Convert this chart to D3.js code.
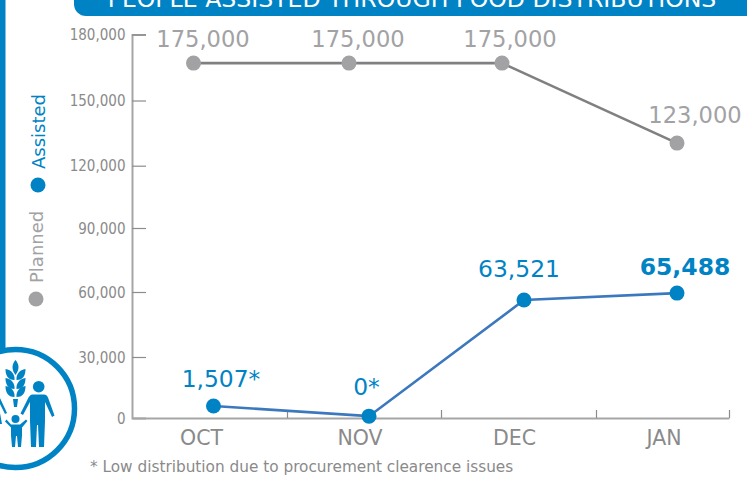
<!DOCTYPE html>
<html>
<head>
<meta charset="utf-8">
<script src="https://cdn.jsdelivr.net/npm/d3@7"></script>
<style>
body { margin: 0; background: #fff; }
svg { display: block; }
text { font-family: "DejaVu Sans", sans-serif; }
</style>
</head>
<body>
<div id="chart"></div>
<script>
var months = ["OCT", "NOV", "DEC", "JAN"]
var yTicks = [0, 30000, 60000, 90000, 120000, 150000, 180000]
// plotted heights do not agree with the printed labels in the source
var plannedValues = [167000, 167000, 167000, 130400]
var assistedValues = [5900, 900, 56300, 59500]
var plannedLabels = ["175,000", "175,000", "175,000", "123,000"]
var assistedLabels = ["1,507*", "0*", "63,521", "65,488"]

var blue = "#0083c5", grey = "#a2a2a5", textGrey = "#8a8a8a"

var svg = d3.select("#chart").append("svg").attr("width", 747).attr("height", 481)

var x = d3.scaleLinear().domain([0, 1, 2, 3, 4]).range([132, 287, 441, 596, 729])
var y = d3.scaleLinear().domain(yTicks).range([418, 357, 292, 228, 165.7, 100.5, 34.5])

// point and label nudges from the month centre, the source is hand placed
var plannedNudge = [-16, -15, -16.5, 14.5]
var assistedNudge = [4, 5, 5.5, 14.5]
var monthNudge = [-8, -4, -4, 1.5]
var plannedLabelX = [9.5, 9, 8, 18]
var plannedLabelY = [16, 16, 16, 20]
var assistedLabelX = [7.5, -2.5, -5, 8]
var assistedLabelY = [19, 21, 23, 18]

// header, the text is cropped by the top of the picture in the source too
svg.append("path").attr("d", "M74,-10V4a12,12 0 0 0 12,12H760V-10Z").attr("fill", blue)
svg.append("text").attr("x", 412).attr("y", 7).attr("text-anchor", "middle")
    .attr("fill", "#fff").style("font-size", "23.6px").text("PEOPLE ASSISTED THROUGH FOOD DISTRIBUTIONS")

// left frame and icon
svg.append("rect").attr("x", 0).attr("y", 0).attr("width", 5.5).attr("height", 352).attr("fill", blue)
var icon = svg.append("g").attr("fill", blue)
icon.append("circle").attr("cx", 15.5).attr("cy", 408.5).attr("r", 59).attr("fill", "#fff").attr("stroke", blue).attr("stroke-width", 5.5)
// wheat
icon.append("path").attr("d", "M15.5,360c3.5,4 4.5,9 0,15c-4.5,-6 -3.5,-11 0,-15Z")
;[371, 380, 388].forEach(function(d) {
    icon.append("path").attr("d", "M14.5," + (d + 9) + "c-7,0 -9,-5 -9,-11c6,1 9.5,5 9,11Z")
    icon.append("path").attr("d", "M16.5," + (d + 9) + "c7,0 9,-5 9,-11c-6,1 -9.5,5 -9,11Z")
})
icon.append("path").attr("d", "M13,399H18L17,407H14Z")
// adult
icon.append("circle").attr("cx", 38.7).attr("cy", 386.7).attr("r", 5.8)
icon.append("path").attr("d", "M33,394.5H44c2,0 3,1 4,3l6.5,18l-2.5,1.5l-7,-15V421l-1,26h-5l-1,-22h-1l-1,22h-5l-1,-26V402l-7,13l-2.5,-1.5l8,-16c1,-1.5 2,-3 4,-3Z")
// child
icon.append("circle").attr("cx", 15.5).attr("cy", 419).attr("r", 4)
icon.append("path").attr("d", "M11,424.5H20l6,-5l1.5,1.5l-5.5,6.5v8l-1,11.500h-3l-1,-11h-1l-1,11h-3l-1,-11.500v-8l-6,-6l1.500,-2Z")
icon.append("path").attr("d", "M0,398l7,15l-2,1l-5,-10ZM0,413l2,11h-2Z")

// legend
function legend(cy, cx, color, label) {
    svg.append("circle").attr("cx", cx).attr("cy", cy).attr("r", 7.5).attr("fill", color)
    svg.append("text").attr("transform", "translate(" + (cx + 7) + "," + (cy - 16) + ") rotate(-90)")
        .attr("fill", color).style("font-size", "18px").text(label)
}
legend(299, 36, grey, "Planned")
legend(185, 38, blue, "Assisted")

// axes
var yAxis = d3.axisRight(y).tickValues(yTicks).tickSize(14).tickFormat("")
svg.append("g").attr("transform", "translate(132,0)").call(yAxis)
    .call(function(g) { g.select(".domain").attr("stroke", "#a6a6a6").attr("stroke-width", 2) })
    .call(function(g) { g.selectAll(".tick line").attr("stroke", "#8c8c8c").attr("stroke-width", 1.2) })
    .selectAll(".tick").filter(function(d) { return d == 0 }).remove()
svg.selectAll(".ylabel").data(yTicks).enter().append("text").attr("class", "ylabel")
    .attr("x", 125.5).attr("y", function(d) { return y(d) + 5.5 }).attr("text-anchor", "end")
    .attr("fill", textGrey).style("font-family", "'DejaVu Sans Condensed','DejaVu Sans',sans-serif").style("font-size", "15px")
    .text(d3.format(","))

var xAxis = d3.axisBottom(x).tickValues([1, 2, 3, 4]).tickSize(-8).tickFormat("").tickSizeOuter(0)
svg.append("g").attr("transform", "translate(0,418)").call(xAxis)
    .call(function(g) { g.select(".domain").attr("stroke", "#a6a6a6").attr("stroke-width", 2) })
    .call(function(g) { g.selectAll(".tick line").attr("stroke", "#8c8c8c").attr("stroke-width", 1.2) })
svg.selectAll(".xlabel").data(months).enter().append("text").attr("class", "xlabel")
    .attr("x", function(d, i) { return x(i + .5) + monthNudge[i] }).attr("y", 445).attr("text-anchor", "middle")
    .attr("fill", textGrey).style("font-size", "20.5px").text(function(d) { return d })

// lines
function px(i, nudge) { return x(i + .5) + nudge[i] }
var plannedLine = d3.line().x(function(d, i) { return px(i, plannedNudge) }).y(function(d) { return y(d) })
var assistedLine = d3.line().x(function(d, i) { return px(i, assistedNudge) }).y(function(d) { return y(d) })
svg.append("path").attr("d", plannedLine(plannedValues)).attr("fill", "none").attr("stroke", "#808082").attr("stroke-width", 2.6)
svg.append("path").attr("d", assistedLine(assistedValues)).attr("fill", "none").attr("stroke", "#3c78bd").attr("stroke-width", 2.6)

svg.selectAll(".pp").data(plannedValues).enter().append("circle").attr("class", "pp")
    .attr("cx", function(d, i) { return px(i, plannedNudge) }).attr("cy", function(d) { return y(d) })
    .attr("r", 7.5).attr("fill", grey)
svg.selectAll(".ap").data(assistedValues).enter().append("circle").attr("class", "ap")
    .attr("cx", function(d, i) { return px(i, assistedNudge) }).attr("cy", function(d) { return y(d) })
    .attr("r", 7.5).attr("fill", blue)

// value labels
svg.selectAll(".pl").data(plannedLabels).enter().append("text").attr("class", "pl")
    .attr("x", function(d, i) { return px(i, plannedNudge) + plannedLabelX[i] })
    .attr("y", function(d, i) { return y(plannedValues[i]) - plannedLabelY[i] }).attr("text-anchor", "middle")
    .attr("fill", grey).style("font-size", "22.6px").text(function(d) { return d })
svg.selectAll(".al").data(assistedLabels).enter().append("text").attr("class", "al")
    .attr("x", function(d, i) { return px(i, assistedNudge) + assistedLabelX[i] })
    .attr("y", function(d, i) { return y(assistedValues[i]) - assistedLabelY[i] }).attr("text-anchor", "middle")
    .attr("fill", blue).style("font-size", function(d, i) { return i == 3 ? "23.500px" : "23.400px" })
    .style("font-weight", function(d, i) { return i == 3 ? "bold" : "normal" })
    .text(function(d) { return d })

svg.append("text").attr("x", 90).attr("y", 472).attr("fill", textGrey).style("font-size", "15.300px")
    .text("* Low distribution due to procurement clearence issues")
</script>
</body>
</html>
